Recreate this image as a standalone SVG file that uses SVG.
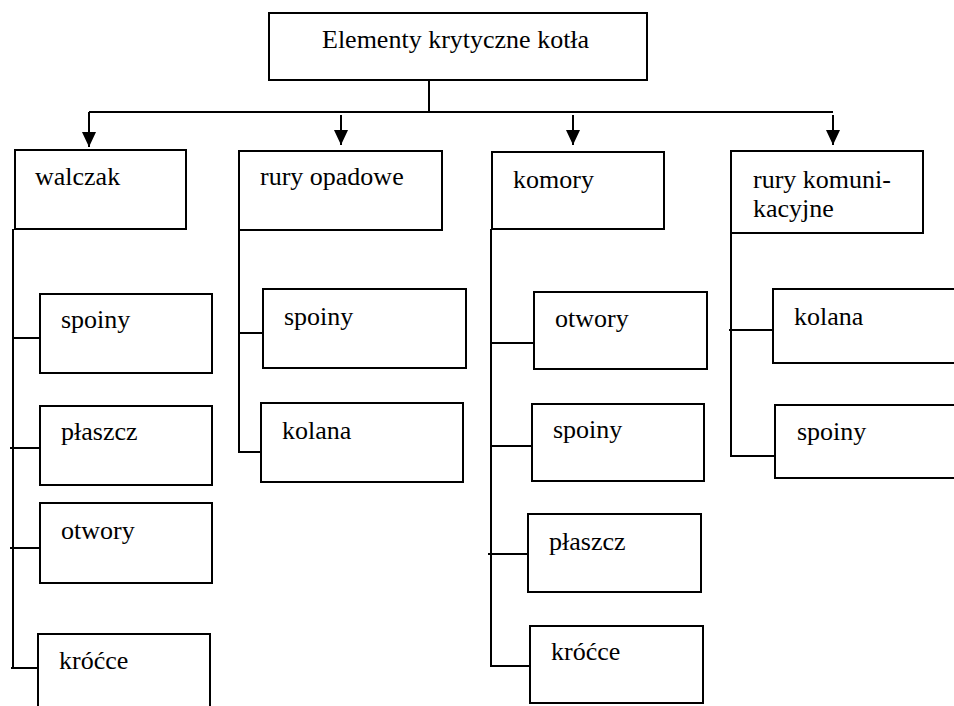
<svg xmlns="http://www.w3.org/2000/svg" width="954" height="706" viewBox="0 0 954 706">
<style>
.box{fill:#fff;stroke:#000;stroke-width:2}
.ln{fill:none;stroke:#000;stroke-width:2}
.t{font-size:26px;fill:#000}
</style>
<defs>
<marker id="ah" markerUnits="userSpaceOnUse" markerWidth="15" markerHeight="15" refX="15" refY="7" orient="auto" viewBox="0 0 15 14">
<path d="M0,0 L15,7 L0,14 z" fill="#000"/>
</marker>
</defs>
<rect width="954" height="706" fill="#fff"/>
<g id="connectors">
<path class="ln" d="M429,80 V112 M89,112 H833"/>
<path class="ln" d="M89,112 V147" marker-end="url(#ah)"/>
<path class="ln" d="M341,115 V145" marker-end="url(#ah)"/>
<path class="ln" d="M573,115 V145" marker-end="url(#ah)"/>
<path class="ln" d="M833,115 V145" marker-end="url(#ah)"/>
<path class="ln" d="M13,229 V668 M13,338 H40 M10,448 H40 M10,548 H40 M11,668 H38"/>
<path class="ln" d="M239,230 V452 H263 M239,333 H266"/>
<path class="ln" d="M491,229 V666 H530 M491,343 H533 M491,446 H532 M488,554 H528"/>
<path class="ln" d="M731,233 V456 H775 M729,330 H773"/>
</g>
<g font-family="Liberation Serif, Times New Roman, DejaVu Serif, serif" font-size="26">
<g id="root"><rect class="box" x="269" y="13" width="378" height="67"/><text class="t" x="322" y="48">Elementy krytyczne kotła</text></g>
<g id="walczak"><rect class="box" x="15" y="150" width="171" height="79"/><text class="t" x="35" y="185">walczak</text></g>
<g id="rury-opadowe"><rect class="box" x="239" y="151" width="203" height="79"/><text class="t" x="260" y="185">rury opadowe</text></g>
<g id="komory"><rect class="box" x="492" y="152" width="172" height="77"/><text class="t" x="513" y="188">komory</text></g>
<g id="rury-komunikacyjne"><rect class="box" x="731" y="151" width="192" height="82"/><text class="t" x="753" y="188">rury komuni-</text><text class="t" x="753" y="217">kacyjne</text></g>
<g id="w-spoiny"><rect class="box" x="40" y="294" width="172" height="79"/><text class="t" x="61" y="328">spoiny</text></g>
<g id="w-plaszcz"><rect class="box" x="40" y="406" width="172" height="79"/><text class="t" x="61" y="440">płaszcz</text></g>
<g id="w-otwory"><rect class="box" x="40" y="503" width="172" height="80"/><text class="t" x="61" y="539">otwory</text></g>
<g id="w-krocce"><rect class="box" x="38" y="634" width="172" height="80"/><text class="t" x="59" y="669">króćce</text></g>
<g id="r-spoiny"><rect class="box" x="263" y="289" width="203" height="79"/><text class="t" x="284" y="325">spoiny</text></g>
<g id="r-kolana"><rect class="box" x="261" y="403" width="202" height="79"/><text class="t" x="282" y="439">kolana</text></g>
<g id="k-otwory"><rect class="box" x="534" y="292" width="173" height="77"/><text class="t" x="555" y="327">otwory</text></g>
<g id="k-spoiny"><rect class="box" x="532" y="404" width="172" height="77"/><text class="t" x="553" y="438">spoiny</text></g>
<g id="k-plaszcz"><rect class="box" x="528" y="514" width="173" height="78"/><text class="t" x="549" y="550">płaszcz</text></g>
<g id="k-krocce"><rect class="box" x="530" y="626" width="173" height="77"/><text class="t" x="551" y="660">króćce</text></g>
<g id="rk-kolana"><rect class="box" x="773" y="289" width="200" height="74"/><text class="t" x="794" y="325">kolana</text></g>
<g id="rk-spoiny"><rect class="box" x="775" y="405" width="200" height="73"/><text class="t" x="797" y="440">spoiny</text></g>
</g>
</svg>
